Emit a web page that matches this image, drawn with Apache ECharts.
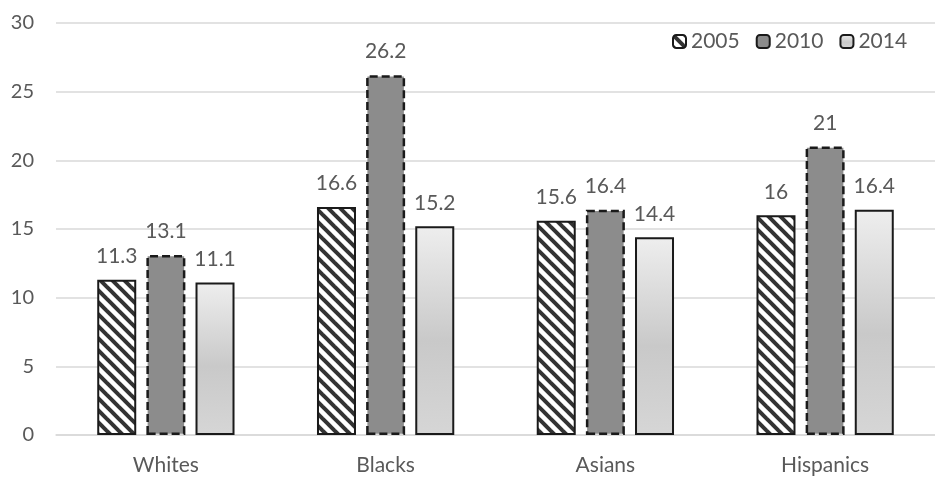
<!DOCTYPE html>
<html>
<head>
<meta charset="utf-8">
<script src="https://cdn.jsdelivr.net/npm/echarts@6/dist/echarts.min.js"></script>
<style>
  html, body { margin: 0; padding: 0; background: #fff; }
  #chart { width: 935px; height: 478px; }
</style>
</head>
<body>
<div id="chart"></div>
<script>
// Groups and yearly values
const categories = ['Whites', 'Blacks', 'Asians', 'Hispanics'];
const years = ['2005', '2010', '2014'];
const values2005 = [11.3, 16.6, 15.6, 16];
const values2010 = [13.1, 26.2, 16.4, 21];
const values2014 = [11.1, 15.2, 14.4, 16.4];
const yTicks = { min: 0, max: 30, step: 5 };

const textColor = '#595959';
const fontFamily = 'Lato, "Open Sans", sans-serif';

// Diagonal hatch tile for the 2005 bars
function hatchPattern() {
  const size = 12;
  const c = document.createElement('canvas');
  c.width = size; c.height = size;
  const ctx = c.getContext('2d');
  ctx.fillStyle = '#ffffff';
  ctx.fillRect(0, 0, size, size);
  ctx.strokeStyle = '#333333';
  ctx.lineWidth = 4;
  for (const k of [-size, 0, size]) {
    ctx.beginPath();
    ctx.moveTo(k - size, -size);
    ctx.lineTo(k + 2 * size, 2 * size);
    ctx.stroke();
  }
  return { image: c, repeat: 'repeat' };
}

const labelStyle = {
  show: true,
  position: 'top',
  distance: 13,
  color: textColor,
  fontSize: 21,
  fontFamily: fontFamily
};

const chart = echarts.init(document.getElementById('chart'));
chart.setOption({
  animation: false,
  backgroundColor: '#ffffff',
  grid: { left: 56, top: 23, width: 884, bottom: 43 },
  legend: {
    data: years,
    left: 667,
    top: 26,
    itemWidth: 13,
    itemHeight: 13,
    itemGap: 16,
    textStyle: { color: textColor, fontSize: 21, fontFamily: fontFamily }
  },
  xAxis: {
    type: 'category',
    data: categories,
    axisTick: { show: false },
    axisLine: { lineStyle: { color: '#d9d9d9', width: 1.5 } },
    axisLabel: { color: textColor, fontSize: 21, fontFamily: fontFamily, margin: 20 }
  },
  yAxis: {
    type: 'value',
    min: yTicks.min,
    max: yTicks.max,
    interval: yTicks.step,
    axisLine: { show: false },
    axisTick: { show: false },
    splitLine: { lineStyle: { color: '#d9d9d9', width: 1.5 } },
    axisLabel: { color: textColor, fontSize: 20, fontFamily: fontFamily, margin: 22 }
  },
  series: [
    {
      name: years[0],
      type: 'bar',
      data: values2005,
      barWidth: 39,
      barGap: '26%',
      itemStyle: { color: hatchPattern(), borderColor: '#1a1a1a', borderWidth: 2 },
      label: labelStyle
    },
    {
      name: years[1],
      type: 'bar',
      data: values2010,
      barWidth: 39,
      barGap: '26%',
      itemStyle: { color: '#8c8c8c', borderColor: '#1a1a1a', borderWidth: 2.5, borderType: [8, 4] },
      label: labelStyle
    },
    {
      name: years[2],
      type: 'bar',
      data: values2014,
      barWidth: 39,
      barGap: '26%',
      itemStyle: {
        color: new echarts.graphic.LinearGradient(0, 0, 0, 1, [
          { offset: 0, color: '#eeeeee' },
          { offset: 0.55, color: '#c9c9c9' },
          { offset: 1, color: '#d6d6d6' }
        ]),
        borderColor: '#1a1a1a',
        borderWidth: 2
      },
      label: labelStyle
    }
  ]
});
</script>
</body>
</html>
